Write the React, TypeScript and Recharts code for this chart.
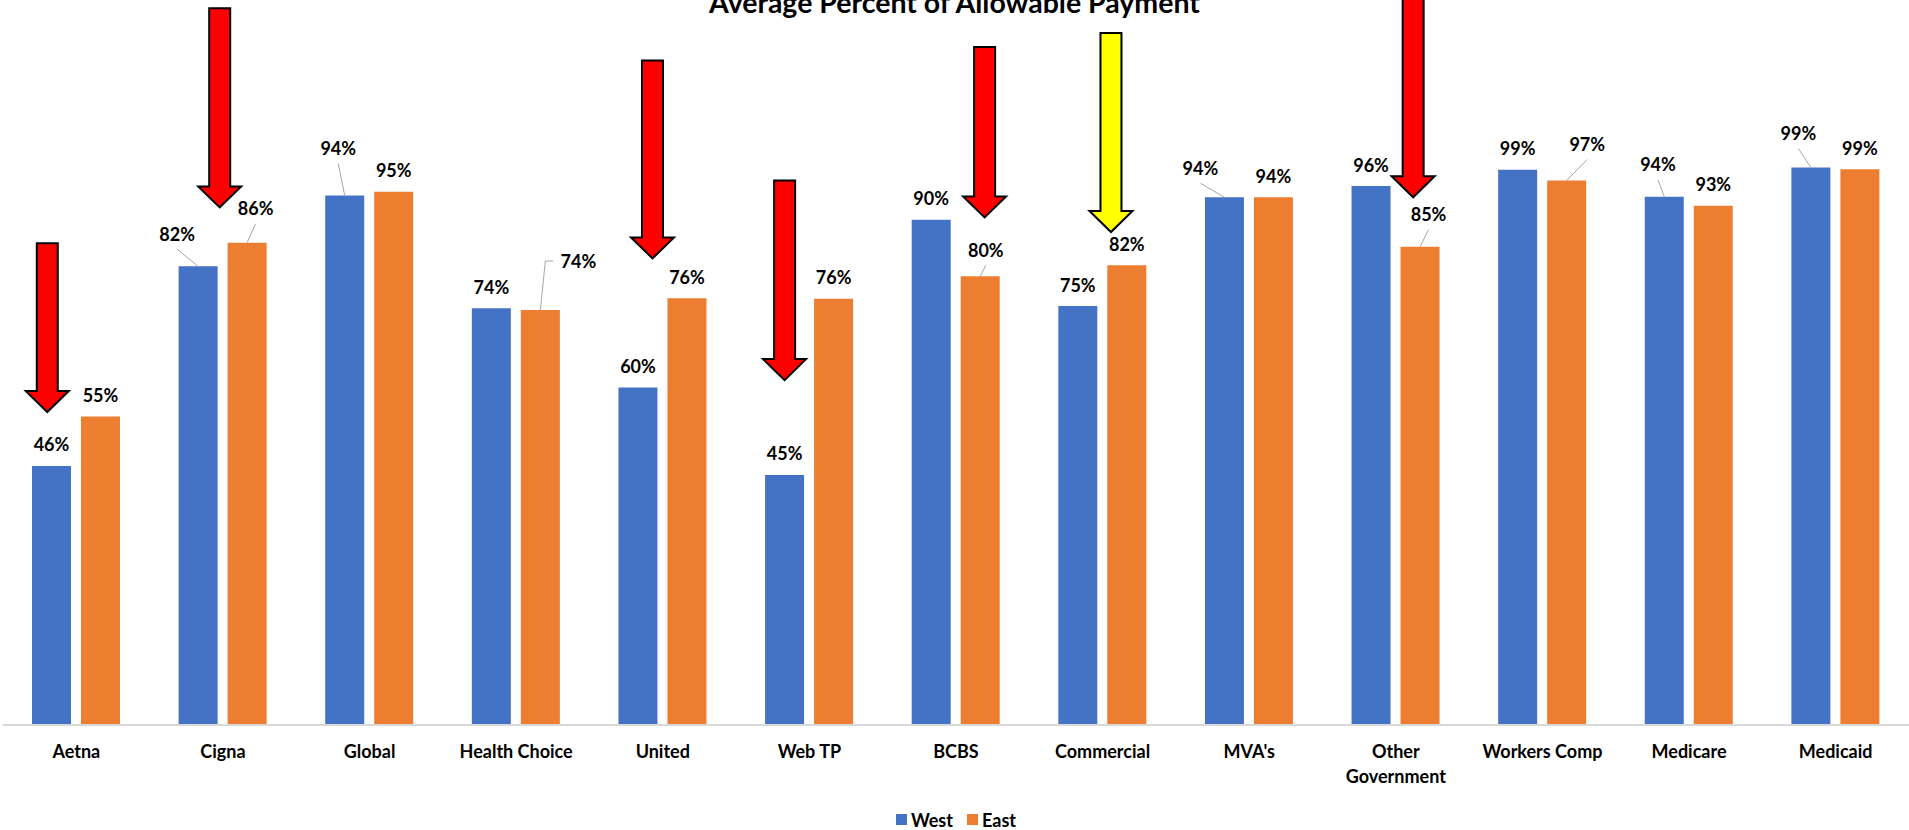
import React from "react";
import {
  BarChart,
  Bar,
  XAxis,
  YAxis,
  LabelList,
  Legend,
  ReferenceArea,
  Customized,
  Text,
} from "recharts";

const categories = [
  "Aetna",
  "Cigna",
  "Global",
  "Health Choice",
  "United",
  "Web TP",
  "BCBS",
  "Commercial",
  "MVA's",
  "Other Government",
  "Workers Comp",
  "Medicare",
  "Medicaid",
];
const west = [0.462, 0.818, 0.944, 0.743, 0.602, 0.446, 0.901, 0.747, 0.941, 0.961, 0.99, 0.942, 0.994];
const east = [0.55, 0.86, 0.951, 0.74, 0.761, 0.76, 0.8, 0.82, 0.941, 0.853, 0.971, 0.926, 0.991];

// arrow annotations: category, value at the shaft top, value at the tip
const arrowCategories = ["Aetna", "Cigna", "United", "Web TP", "BCBS", "Commercial", "Other Government"];
const arrowTops = [0.859, 1.278, 1.185, 0.971, 1.209, 1.234, 1.32];
const arrowTips = [0.558, 0.923, 0.832, 0.615, 0.905, 0.879, 0.941];

const data = categories.map((name, i) => ({ name, West: west[i], East: east[i] }));

// layout only: where each arrow sits inside its category band, and its fill
const arrowPlace = [0.302, 0.478, 0.43, 0.331, 0.695, 0.557, 0.618];
const arrowFill = ["#FF0000", "#FF0000", "#FF0000", "#FF0000", "#FF0000", "#FFFF00", "#FF0000"];

// labels that were dragged off the bar in the original, with a leader line
const movedLabels: Record<string, [number, number]> = {
  "West:Cigna": [-21, -32],
  "East:Cigna": [8.5, -34],
  "West:Global": [-6.5, -47],
  "East:Health Choice": [38, -49],
  "East:BCBS": [5.6, -26],
  "West:MVA's": [-24, -29],
  "East:Other Government": [8.5, -32],
  "East:Workers Comp": [20.6, -36],
  "West:Medicare": [-6.3, -32],
  "West:Medicaid": [-12.5, -34],
};

const FONT = "Lato, 'Open Sans', sans-serif";
const pct = (v: number) => `${Math.round(v * 100)}%`;

const makeLabel = (series: string) => (props: any) => {
  const { x, y, width, value, index } = props;
  const cx = x + width / 2;
  const key = `${series}:${categories[index]}`;
  const moved = movedLabels[key];
  const [dx, dy] = moved || [0, -21];
  const lx = cx + dx;
  const ly = y + dy;
  let leader = null;
  if (moved) {
    if (Math.abs(dx) > 30) {
      leader = (
        <polyline
          points={`${lx - 25},${ly} ${cx + 5},${ly} ${cx},${y}`}
          fill="none"
          stroke="#A6A6A6"
          strokeWidth={1}
        />
      );
    } else {
      leader = <line x1={lx} y1={ly + 15} x2={cx} y2={y} stroke="#A6A6A6" strokeWidth={1} />;
    }
  }
  return (
    <g>
      {leader}
      <text
        x={lx}
        y={ly + 6.5}
        textAnchor="middle"
        fontFamily={FONT}
        fontWeight={700}
        fontSize={18}
        fill="#000"
      >
        {pct(value)}
      </text>
    </g>
  );
};

const CategoryTick = (props: any) => {
  const { x, y, payload } = props;
  return (
    <Text
      x={x}
      y={y + 20}
      width={130}
      textAnchor="middle"
      verticalAnchor="start"
      lineHeight={25}
      style={{ fontFamily: FONT, fontWeight: 700, fontSize: 18 }}
      fill="#000"
    >
      {payload.value}
    </Text>
  );
};

const Arrow = (props: any) => {
  const { x, y, width, height, place, color } = props;
  const cx = x + width * place;
  const top = y;
  const tip = y + height;
  const s = 10.5;
  const h = 21.5;
  const hl = 21;
  const pts = [
    [cx - s, top],
    [cx + s, top],
    [cx + s, tip - hl],
    [cx + h, tip - hl],
    [cx, tip],
    [cx - h, tip - hl],
    [cx - s, tip - hl],
  ]
    .map((p) => p.join(","))
    .join(" ");
  return <polygon points={pts} fill={color} stroke="#000" strokeWidth={2} strokeLinejoin="miter" />;
};

const Title = () => (
  <text x={954.5} y={13} textAnchor="middle" fontFamily={FONT} fontWeight={700} fontSize={28.5} fill="#000">
    Average Percent of Allowable Payment
  </text>
);

const LegendContent = () => (
  <div
    style={{
      display: "flex",
      justifyContent: "center",
      alignItems: "center",
      height: 21,
      fontFamily: FONT,
      fontWeight: 700,
      fontSize: 18,
      color: "#000",
    }}
  >
    {[
      ["West", "#4472C4"],
      ["East", "#ED7D31"],
    ].map(([name, color]) => (
      <span key={name} style={{ display: "flex", alignItems: "center", margin: "0 7px" }}>
        <span style={{ width: 11, height: 11, background: color, marginRight: 4 }} />
        {name}
      </span>
    ))}
  </div>
);

export default function App() {
  return (
    <div style={{ position: "absolute", left: 0, top: 0, background: "#fff" }}>
      <BarChart
        width={1909}
        height={830}
        data={data}
        margin={{ top: 24, right: 0, bottom: 0, left: 3 }}
        barSize={39}
        barGap={10}
      >
        <XAxis
          dataKey="name"
          interval={0}
          height={84}
          tickLine={false}
          tickSize={0}
          tickMargin={0}
          axisLine={{ stroke: "#D9D9D9", strokeWidth: 2 }}
          tick={<CategoryTick />}
        />
        <YAxis hide domain={[0, 1.25]} />
        <Legend verticalAlign="bottom" height={21} content={<LegendContent />} />
        <Bar dataKey="West" fill="#4472C4" isAnimationActive={false}>
          <LabelList dataKey="West" content={makeLabel("West")} />
        </Bar>
        <Bar dataKey="East" fill="#ED7D31" isAnimationActive={false}>
          <LabelList dataKey="East" content={makeLabel("East")} />
        </Bar>
        {arrowCategories.map((c, i) => (
          <ReferenceArea
            key={c}
            x1={c}
            x2={c}
            y1={arrowTips[i]}
            y2={arrowTops[i]}
            ifOverflow="visible"
            shape={(p: any) => <Arrow {...p} place={arrowPlace[i]} color={arrowFill[i]} />}
          />
        ))}
        <Customized component={<Title />} />
      </BarChart>
    </div>
  );
}
